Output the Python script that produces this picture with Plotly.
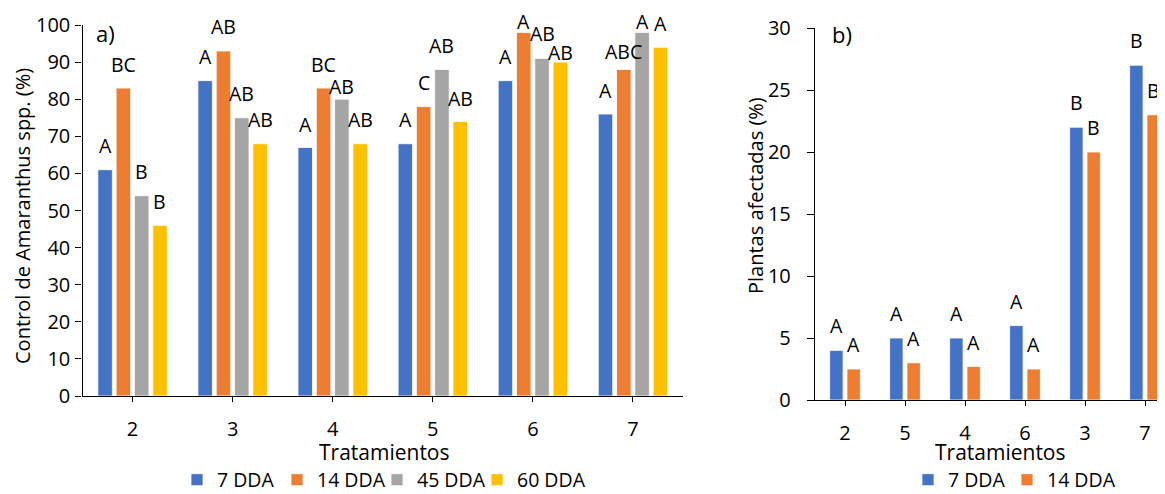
import plotly.graph_objects as go

# ---------------- data: panel a ----------------
trat_a = ["2", "3", "4", "5", "6", "7"]
series_a = ["7 DDA", "14 DDA", "45 DDA", "60 DDA"]
ctrl_7 = [61, 85, 67, 68, 85, 76]
ctrl_14 = [83, 93, 83, 78, 98, 88]
ctrl_45 = [54, 75, 80, 88, 91, 98]
ctrl_60 = [46, 68, 68, 74, 90, 94]
let_a7 = ["A", "A", "A", "A", "A", "A"]
let_a14 = ["BC", "AB", "BC", "C", "A", "ABC"]
let_a45 = ["B", "AB", "AB", "AB", "AB", "A"]
let_a60 = ["B", "AB", "AB", "AB", "AB", "A"]

# ---------------- data: panel b ----------------
trat_b = ["2", "5", "4", "6", "3", "7"]
series_b = ["7 DDA", "14 DDA"]
afec_7 = [4, 5, 5, 6, 22, 27]
afec_14 = [2.5, 3, 2.7, 2.5, 20, 23]
let_b7 = ["A", "A", "A", "A", "B", "B"]
let_b14 = ["A", "A", "A", "A", "B", "B"]

# ---------------- styles ----------------
colors = ["#4472C4", "#ED7D31", "#A5A5A5", "#FFC000"]
FONT = "Open Sans"
TICK = 20
LBL = 19.5
LEG = 19.5
# vertical gap (px) between bar top and letter centre
lab_dy_a = [
    [24, 24, 23, 24, 24, 24],
    [24, 24, 24, 24, 11, 18.5],
    [24, 24, 12.5, 24, 24.5, 11],
    [24, 24, 24.5, 22.5, 10, 23.5],
]
lab_dy_b = [[24.5] * 6, [24.5] * 6]

# page is offset by the body margin; work in page pixels
VW, VH = 1165, 494
OX, OY = 8, 8
W, H = VW - OX, VH - OY

ax_x0, ax_x1, ay_top, ay_bot = 82.5, 683, 25, 396
bx_x0, bx_x1, by_top, by_bot = 815, 1165, 28, 400
cat_a_px = (ax_x1 - ax_x0) / 6
cat_b_px = 60.0
b_range_hi = -0.5 + (bx_x1 - bx_x0) / cat_b_px

bw_a, step_a = 14.5 / cat_a_px, 18.3 / cat_a_px
bw_b, step_b = 13.4 / cat_b_px, 17.3 / cat_b_px


def px(x):
    return (x - OX) / W


def py(y):
    return 1 - (y - OY) / H


fig = go.Figure()

vals_a = [ctrl_7, ctrl_14, ctrl_45, ctrl_60]
lets_a = [let_a7, let_a14, let_a45, let_a60]
annotations = []
for i, (name, vals, lets) in enumerate(zip(series_a, vals_a, lets_a)):
    centre = (i - 1.5) * step_a
    fig.add_trace(go.Bar(
        x=trat_a, y=vals, name=name, xaxis="x", yaxis="y",
        width=bw_a, offset=centre - bw_a / 2,
        marker=dict(color=colors[i], line=dict(color="white", width=0.8)),
        legend="legend",
    ))
    for j, (v, t) in enumerate(zip(vals, lets)):
        annotations.append(dict(
            x=j + centre, y=v, xref="x", yref="y", text=t, showarrow=False,
            yanchor="middle", xanchor="center", yshift=lab_dy_a[i][j],
            font=dict(family=FONT, size=LBL, color="black"),
        ))

vals_b = [afec_7, afec_14]
lets_b = [let_b7, let_b14]
for i, (name, vals, lets) in enumerate(zip(series_b, vals_b, lets_b)):
    centre = (i - 0.5) * step_b
    fig.add_trace(go.Bar(
        x=trat_b, y=vals, name=name, xaxis="x2", yaxis="y2",
        width=bw_b, offset=centre - bw_b / 2,
        marker=dict(color=colors[i], line=dict(color="white", width=0.8)),
        legend="legend2",
    ))
    for j, (v, t) in enumerate(zip(vals, lets)):
        annotations.append(dict(
            x=j + centre, y=v, xref="x2", yref="y2", text=t, showarrow=False,
            yanchor="middle", xanchor="center", yshift=lab_dy_b[i][j],
            font=dict(family=FONT, size=LBL, color="black"),
        ))

# invisible spacer entries so the last legend label is not clipped
for leg, ax in (("legend", ("x", "y")), ("legend2", ("x2", "y2"))):
    fig.add_trace(go.Bar(
        x=[None], y=[None], name=" ", xaxis=ax[0], yaxis=ax[1],
        marker=dict(color="rgba(0,0,0,0)", line=dict(width=0)),
        legend=leg, hoverinfo="skip", showlegend=True,
    ))

annotations += [
    dict(x=px(384), y=py(452), xref="paper", yref="paper", text="Tratamientos",
         showarrow=False, xanchor="center", yanchor="middle",
         font=dict(family=FONT, size=21, color="black")),
    dict(x=px(1000), y=py(452), xref="paper", yref="paper", text="Tratamientos",
         showarrow=False, xanchor="center", yanchor="middle",
         font=dict(family=FONT, size=21, color="black")),
    dict(x=px(22), y=py(216), xref="paper", yref="paper",
         text="Control de Amaranthus spp. (%)", textangle=-90,
         showarrow=False, xanchor="center", yanchor="middle",
         font=dict(family=FONT, size=20, color="black")),
    dict(x=px(755), y=py(196), xref="paper", yref="paper",
         text="Plantas afectadas (%)", textangle=-90,
         showarrow=False, xanchor="center", yanchor="middle",
         font=dict(family=FONT, size=20, color="black")),
    dict(x=px(105), y=py(33), xref="paper", yref="paper", text="a)",
         showarrow=False, xanchor="center", yanchor="middle",
         font=dict(family=FONT, size=22, color="black")),
    dict(x=px(842), y=py(34), xref="paper", yref="paper", text="b)",
         showarrow=False, xanchor="center", yanchor="middle",
         font=dict(family=FONT, size=22, color="black")),
]

axis_common = dict(
    showline=True, linecolor="black", linewidth=1.4,
    ticks="outside", tickcolor="black", tickwidth=1.4,
    showgrid=False, zeroline=False, automargin=False,
    tickfont=dict(family=FONT, size=TICK, color="black"),
)

legend_common = dict(
    orientation="h", xanchor="left", yanchor="middle", y=py(480),
    font=dict(family=FONT, size=LEG, color="black"),
    itemwidth=30, traceorder="normal", bgcolor="rgba(0,0,0,0)",
    entrywidthmode="pixels",
)

fig.update_layout(
    width=W, height=H,
    margin=dict(l=0, r=0, t=0, b=0, autoexpand=False),
    paper_bgcolor="white", plot_bgcolor="white",
    font=dict(family=FONT, color="black"),
    showlegend=True,
    xaxis=dict(domain=[px(ax_x0), px(ax_x1)], anchor="y", type="category",
               range=[-0.5, 5.5], ticklen=5, ticklabelstandoff=10, **axis_common),
    yaxis=dict(domain=[py(ay_bot), py(ay_top)], anchor="x", range=[0, 100],
               dtick=10, ticklen=6, ticklabelstandoff=1, **axis_common),
    xaxis2=dict(domain=[px(bx_x0), min(1.0, px(bx_x1))], anchor="y2",
                type="category", range=[-0.5, b_range_hi], ticklen=5,
                ticklabelstandoff=10, **axis_common),
    yaxis2=dict(domain=[py(by_bot), py(by_top)], anchor="x2", range=[0, 30],
                dtick=5, ticklen=7, ticklabelstandoff=12, **axis_common),
    legend=dict(x=px(177), entrywidth=55, **legend_common),
    legend2=dict(x=px(908), entrywidth=54, **legend_common),
    annotations=annotations,
)

fig.write_html("out.html")
